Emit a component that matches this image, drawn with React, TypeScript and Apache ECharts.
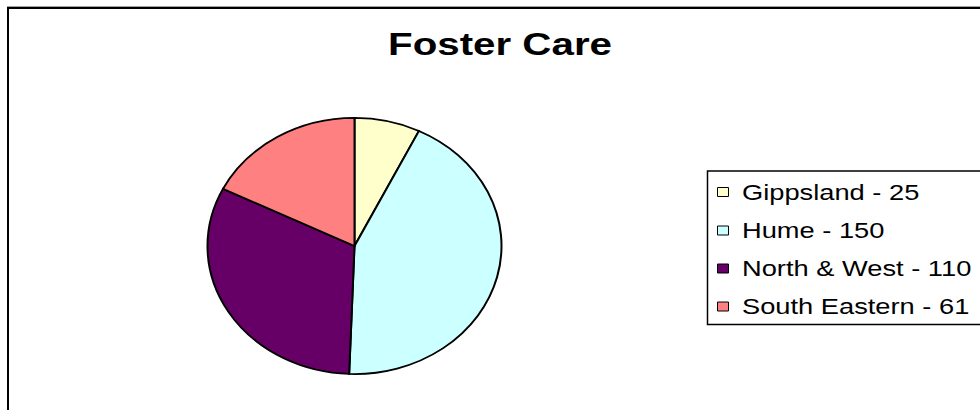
import React, { useEffect, useRef } from "react";
import * as echarts from "echarts";

const TITLE = "Foster Care";
const categories = ["Gippsland", "Hume", "North & West", "South Eastern"];
const values = [25, 150, 110, 61];
const colors = ["#FFFFCC", "#CCFFFF", "#660066", "#FF8080"];

const FONT = "'Liberation Sans', Arial, sans-serif";

export default function App() {
  const ref = useRef<HTMLDivElement>(null);

  useEffect(() => {
    if (!ref.current) return;
    const chart = echarts.init(ref.current, null, { renderer: "svg" });
    const total = values.reduce((a, b) => a + b, 0);

    const cx = 354.5;
    const cy = 246;
    const rx = 147;
    const ry = 128;

    const legendItems: any[] = [];
    const rowY = [192, 230.5, 268.5, 306.5];
    categories.forEach((c, i) => {
      legendItems.push({
        type: "rect",
        shape: { x: 717.5, y: rowY[i] - 4.5, width: 11, height: 9 },
        style: { fill: colors[i], stroke: "#000", lineWidth: 1 },
      });
      legendItems.push({
        type: "text",
        x: 742,
        y: rowY[i],
        scaleX: 1.24,
        style: {
          text: `${c} - ${values[i]}`,
          fontFamily: FONT,
          fontSize: 22,
          fill: "#000",
          textAlign: "left",
          textVerticalAlign: "middle",
        },
      });
    });

    chart.setOption({
      animation: false,
      backgroundColor: "#fff",
      graphic: [
        {
          type: "line",
          shape: { x1: 7, y1: 6.5, x2: 980, y2: 6.5 },
          style: { stroke: "#a0a0a0", lineWidth: 1 },
        },
        {
          type: "polyline",
          shape: { points: [[8, 410], [8, 8], [980, 8]] },
          style: { stroke: "#000", lineWidth: 2, fill: null },
        },
        {
          type: "text",
          x: 500,
          y: 44.5,
          scaleX: 1.26,
          style: {
            text: TITLE,
            fontFamily: FONT,
            fontSize: 32,
            fontWeight: "bold",
            fill: "#000",
            textAlign: "center",
            textVerticalAlign: "middle",
          },
        },
        {
          type: "rect",
          shape: { x: 707.5, y: 171, width: 300, height: 153.5 },
          style: { fill: "#fff", stroke: "#000", lineWidth: 1.5 },
        },
        ...legendItems,
      ],
      series: [
        {
          type: "custom",
          name: TITLE,
          coordinateSystem: "none",
          silent: true,
          data: categories.map((c, i) => ({ name: c, value: values[i] })),
          renderItem: (params: any, api: any) => {
            const i = params.dataIndex;
            const before = values.slice(0, i).reduce((a, b) => a + b, 0);
            const v = api.value(0);
            const start = -Math.PI / 2 + (2 * Math.PI * before) / total;
            const end = start + (2 * Math.PI * v) / total;
            return {
              type: "sector",
              x: cx,
              y: cy,
              scaleX: 1,
              scaleY: ry / rx,
              shape: { cx: 0, cy: 0, r0: 0, r: rx, startAngle: start, endAngle: end, clockwise: true },
              style: { fill: colors[i], stroke: "#000", lineWidth: 2, strokeNoScale: true },
            };
          },
        },
      ],
    });
    return () => chart.dispose();
  }, []);

  return (
    <div
      ref={ref}
      style={{ position: "absolute", left: 0, top: 0, width: 980, height: 410 }}
    />
  );
}
